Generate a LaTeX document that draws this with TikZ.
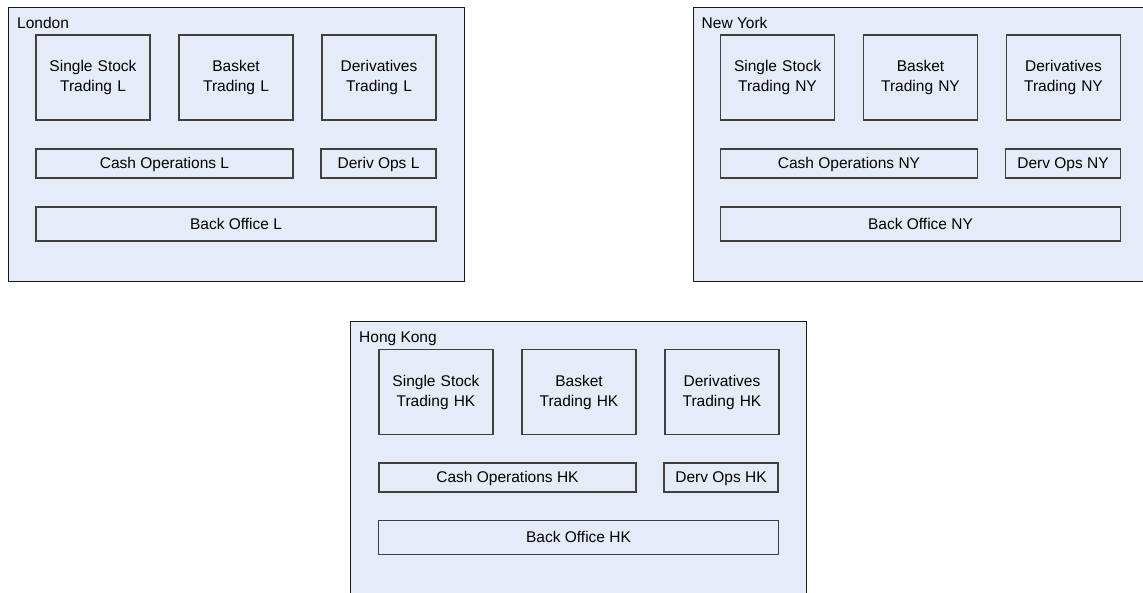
\documentclass[tikz,border=0pt]{standalone}
\usepackage{fontspec}
\setmainfont{Liberation Sans}
\definecolor{deskfill}{RGB}{230,236,247}
\begin{document}
\begin{tikzpicture}[x=1pt,y=-1pt,
site/.style ={rectangle, draw=black!90, line width=1.2pt, fill=deskfill,
  minimum width=456pt, minimum height=274pt, anchor=north west, inner sep=0pt
},
sitename/.style ={anchor=base west, inner sep=0pt,
  font=\fontsize{15.5}{18}\selectfont
},
desk/.style ={rectangle, draw=black!75, line width=1.2pt, fill=deskfill,
  text width=106pt, align=center, minimum width=114pt, minimum height=85pt,
  inner sep=0pt, font=\fontsize{15.5}{20}\selectfont
},
ops/.style ={rectangle, draw=black!75, line width=1.2pt, fill=deskfill,
  minimum height=29pt, inner sep=0pt, text depth=1pt,
  font=\fontsize{15.5}{18}\selectfont
}]
\useasboundingbox (0,0) rectangle (1143,592);
% London
\begin{scope}[shift={(8,7)}]
\node (lon) at (0,0) [site] {};
\node (lon-t) at (9,21) [sitename] {London};
\node (ss-l) at (85,70.5) [desk] {Single Stock\\Trading L};
\node (bk-l) at (228,70.5) [desk] {Basket\\Trading L};
\node (dv-l) at (371,70.5) [desk] {Derivatives\\Trading L};
\node (co-l) at (156.5,156.5) [ops, minimum width=257pt] {Cash Operations L};
\node (do-l) at (370.5,156.5) [ops, minimum width=115pt] {Deriv Ops L};
\node (bo-l) at (228,217) [ops, minimum width=400pt, minimum height=34pt] {Back Office L};
\end{scope}
% New York
\begin{scope}[shift={(692.5,7)}]
\node (ny) at (0,0) [site] {};
\node (ny-t) at (9,21) [sitename] {New York};
\node (ss-ny) at (85,70.5) [desk] {Single Stock\\Trading NY};
\node (bk-ny) at (228,70.5) [desk] {Basket\\Trading NY};
\node (dv-ny) at (371,70.5) [desk] {Derivatives\\Trading NY};
\node (co-ny) at (156.5,156.5) [ops, minimum width=257pt] {Cash Operations NY};
\node (do-ny) at (370.5,156.5) [ops, minimum width=115pt] {Derv Ops NY};
\node (bo-ny) at (228,217) [ops, minimum width=400pt, minimum height=34pt] {Back Office NY};
\end{scope}
% Hong Kong
\begin{scope}[shift={(350,321)}]
\node (hk) at (0,0) [site] {};
\node (hk-t) at (9,21) [sitename] {Hong Kong};
\node (ss-hk) at (86,71) [desk] {Single Stock\\Trading HK};
\node (bk-hk) at (229,71) [desk] {Basket\\Trading HK};
\node (dv-hk) at (372,71) [desk] {Derivatives\\Trading HK};
\node (co-hk) at (157.5,156.5) [ops, minimum width=257pt] {Cash Operations HK};
\node (do-hk) at (371,156.5) [ops, minimum width=114pt] {Derv Ops HK};
\node (bo-hk) at (228.5,216.5) [ops, minimum width=400pt, minimum height=34pt] {Back Office HK};
\end{scope}
\end{tikzpicture}
\end{document}
